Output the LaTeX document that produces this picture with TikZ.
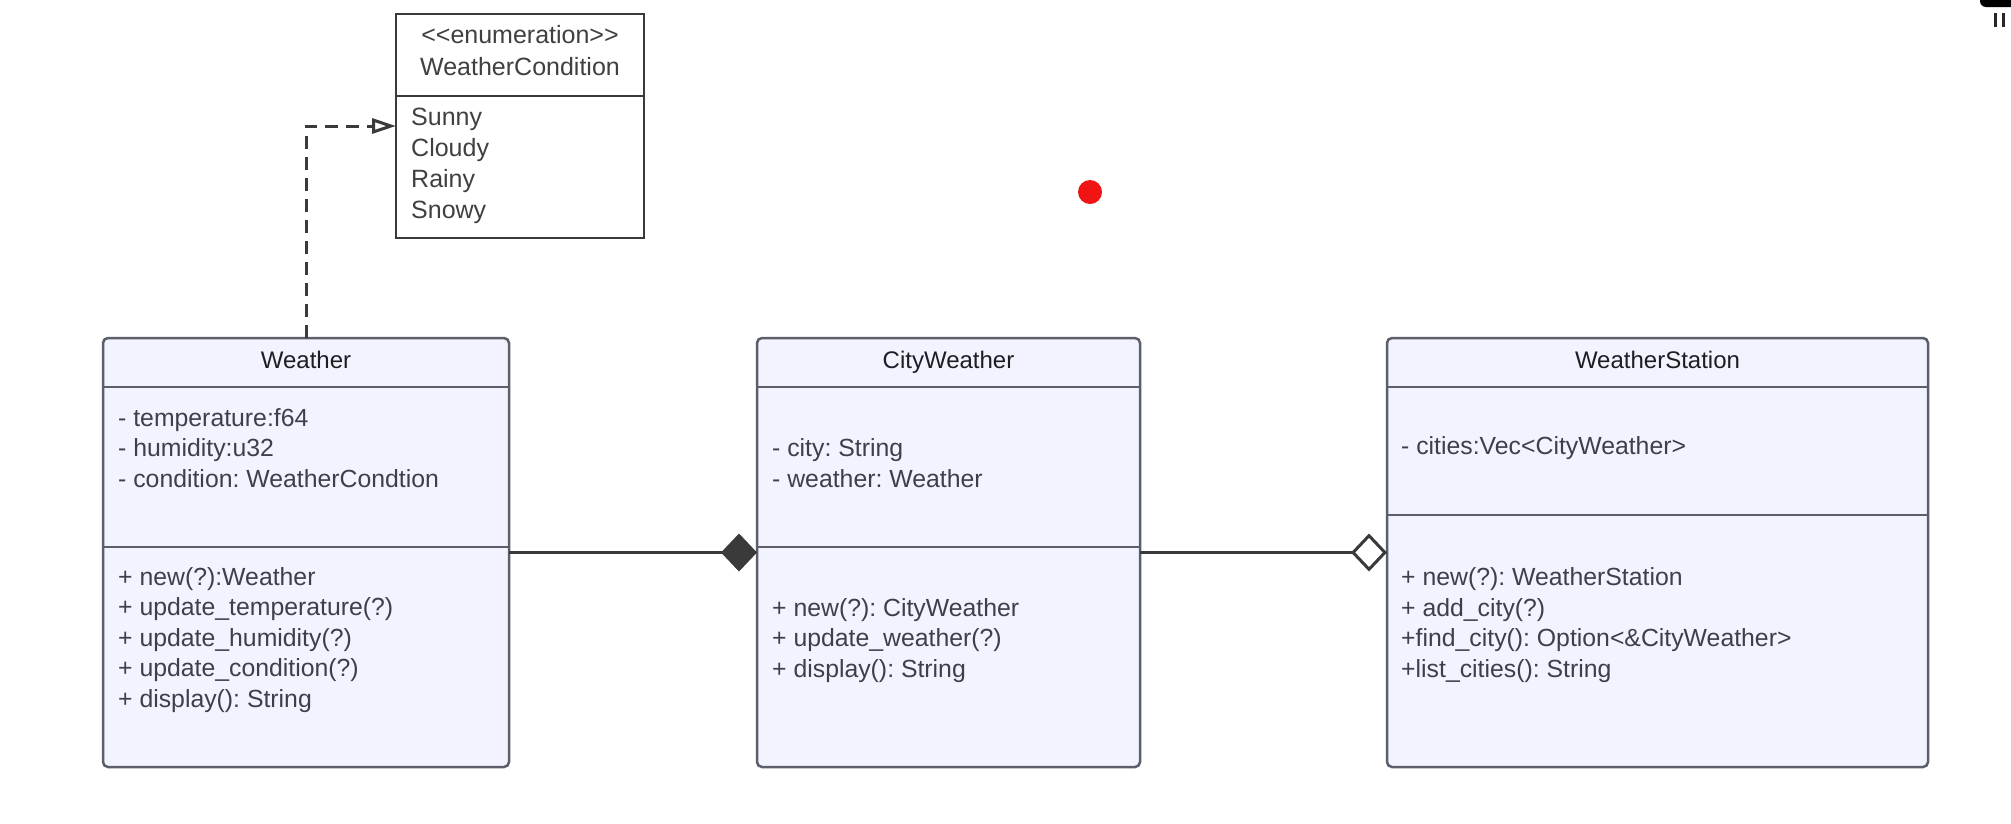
\documentclass[tikz,border=0pt]{standalone}
\usepackage{fontspec}
\setmainfont{Liberation Sans}
\usetikzlibrary{arrows.meta}
\frenchspacing
\definecolor{boxfill}{RGB}{241,244,254}
\definecolor{boxline}{RGB}{92,95,106}
\definecolor{txt}{RGB}{62,64,72}
\definecolor{hdr}{RGB}{30,30,34}
\definecolor{conn}{RGB}{58,58,58}
\definecolor{dot}{RGB}{240,20,20}
\tikzset{
  classbox/.style={draw=boxline, fill=boxfill, line width=2.5pt, rounded corners=5pt, inner sep=0pt, outer sep=0pt},
  enumbox/.style={draw=conn, fill=white, line width=2.2pt, inner sep=0pt, outer sep=0pt},
  divider/.style={draw=boxline, line width=2.5pt},
  enumdiv/.style={draw=conn, line width=2.2pt},
  member/.style={anchor=west, align=left, inner sep=0pt, text=txt, font=\fontsize{24.8}{30.5}\selectfont},
  enumitem/.style={anchor=west, align=left, inner sep=0pt, text=hdr!85, font=\fontsize{25}{31}\selectfont},
  title/.style={anchor=base, inner sep=0pt, align=center, text=hdr, font=\fontsize{24}{32}\selectfont},
  comp/.style={draw=conn, line width=3pt, -{Diamond[length=36pt,width=38pt,fill=conn]}},
  aggr/.style={draw=conn, line width=3pt, -{Diamond[open,length=36pt,width=38pt,fill=white]}},
  dep/.style={draw=conn, line width=3pt, dash pattern=on 13pt off 8pt, -{Triangle[open,length=24pt,width=15pt]}},
}
\begin{document}
\begin{tikzpicture}[x=1pt,y=-1pt]
\useasboundingbox (0,0) rectangle (2011,823);
\clip (0,0) rectangle (2011,823);
\fill[white] (0,0) rectangle (2011,823);

% enumeration
\node[enumbox, minimum width=248pt, minimum height=224pt] (enum) at (520,126) {};
\draw[enumdiv] (enum.west |- 0,96) -- (enum.east |- 0,96);
\node[inner sep=0pt, align=center, text=hdr!85, font=\fontsize{25}{32}\selectfont] (enumtitle) at (520,51) {<\kern0pt<enumeration>\kern0pt>\\WeatherCondition};
\node[enumitem] (enumitems) at (411,166) {Sunny\\Cloudy\\Rainy\\Snowy};

% Weather
\node[classbox, minimum width=406pt, minimum height=429pt] (weather) at (306,552.5) {};
\draw[divider] (weather.west |- 0,387) -- (weather.east |- 0,387);
\draw[divider] (weather.west |- 0,547) -- (weather.east |- 0,547);
\node[title] (weathertitle) at (306,368.6) {Weather};
\node[member] (weatherattr) at (118,448) {- temperature:f64\\- humidity:u32\\- condition: WeatherCondtion};
\node[member] (weatherops) at (118,640) {+ new(?):Weather\\+ update\_temperature(?)\\+ update\_humidity(?)\\+ update\_condition(?)\\+ display(): String};

% CityWeather
\node[classbox, minimum width=383pt, minimum height=429pt] (city) at (948.5,552.5) {};
\draw[divider] (city.west |- 0,387) -- (city.east |- 0,387);
\draw[divider] (city.west |- 0,547) -- (city.east |- 0,547);
\node[title] (citytitle) at (948.5,368.6) {CityWeather};
\node[member] (cityattr) at (772,463) {- city: String\\- weather: Weather};
\node[member] (cityops) at (772,640.5) {+ new(?): CityWeather\\+ update\_weather(?)\\+ display(): String};

% WeatherStation
\node[classbox, minimum width=541pt, minimum height=429pt] (station) at (1657.5,552.5) {};
\draw[divider] (station.west |- 0,387) -- (station.east |- 0,387);
\draw[divider] (station.west |- 0,515) -- (station.east |- 0,515);
\node[title] (stationtitle) at (1657.5,368.6) {WeatherStation};
\node[member] (stationattr) at (1401,448) {- cities:Vec<CityWeather>};
\node[member] (stationops) at (1401,625) {+ new(?): WeatherStation\\+ add\_city(?)\\+find\_city(): Option<\&CityWeather>\\+list\_cities(): String};

% connectors
\draw[dep] (weather.north) |- (enum.west);
\draw[comp] (weather.east) -- (city.west);
\draw[aggr] (city.east) -- (station.west);

% screen artefacts
\fill[dot] (1090,192) circle (12pt);
\fill[black, rounded corners=6pt] (1980,-12) rectangle (2040,7);
\fill[black!85] (1993.5,13) rectangle (1996.5,27);
\fill[black!85] (2001.5,13) rectangle (2004.5,27);
\end{tikzpicture}
\end{document}
